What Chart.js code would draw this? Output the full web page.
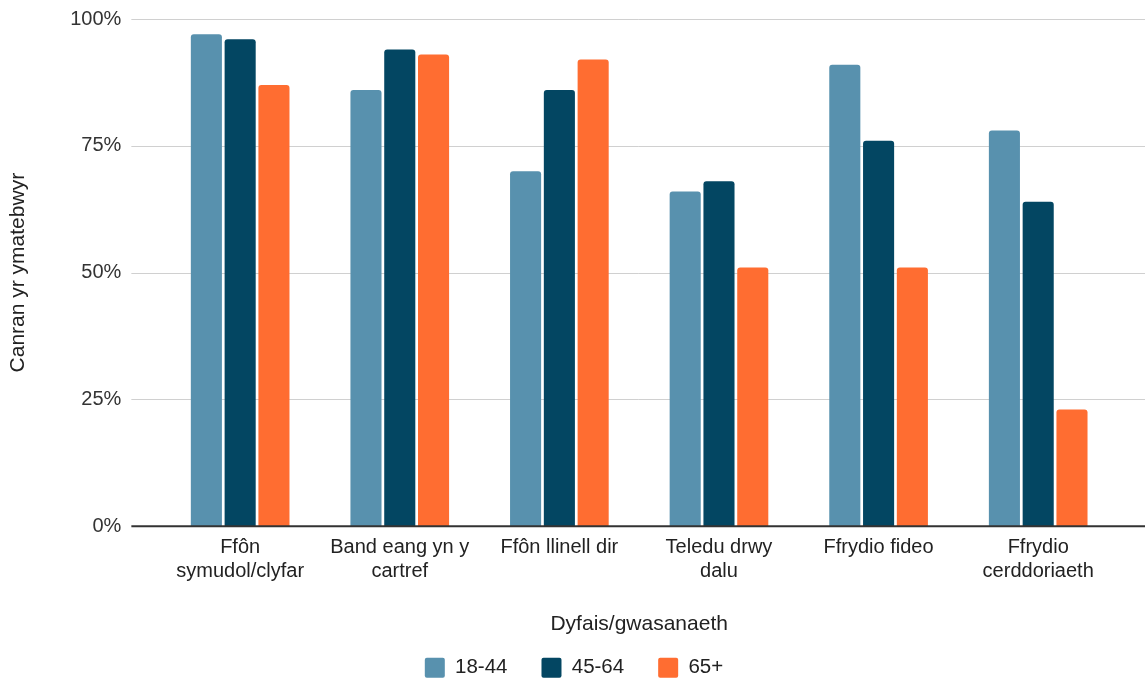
<!DOCTYPE html>
<html>
<head>
<meta charset="utf-8">
<script src="https://cdn.jsdelivr.net/npm/chart.js@4"></script>
<style>
  html, body { margin: 0; padding: 0; background: #fff; }
  #wrap { width: 1148px; height: 681px; }
</style>
</head>
<body>
<div id="wrap"><canvas id="chart" width="1148" height="681"></canvas></div>
<script>
  // ----- data -----
  const categories = [
    ['Ffôn', 'symudol/clyfar'],
    ['Band eang yn y', 'cartref'],
    'Ffôn llinell dir',
    ['Teledu drwy', 'dalu'],
    'Ffrydio fideo',
    ['Ffrydio', 'cerddoriaeth']
  ];
  const seriesNames = ['18-44', '45-64', '65+'];
  const young = [97, 86, 70, 66, 91, 78];
  const middle = [96, 94, 86, 68, 76, 64];
  const older = [87, 93, 92, 51, 51, 23];
  const yTicks = [0, 25, 50, 75, 100];

  const colors = ['#5891ae', '#034662', '#ff6d31'];
  const font = 'Liberation Sans, Arial, sans-serif';

  // gridlines run a bit wider than the category band, like the original
  const wideGrid = {
    id: 'wideGrid',
    beforeDatasetsDraw(chart) {
      const { ctx, chartArea, scales } = chart;
      ctx.save();
      ctx.strokeStyle = '#d0d0d0';
      ctx.lineWidth = 1;
      yTicks.forEach(v => {
        if (v === 0) return;
        const y = Math.round(scales.y.getPixelForValue(v)) + 0.5;
        ctx.beginPath();
        ctx.moveTo(chartArea.left - 29, y);
        ctx.lineTo(chartArea.right + 27, y);
        ctx.stroke();
      });
      ctx.restore();
    },
    afterDatasetsDraw(chart) {
      const { ctx, chartArea, scales } = chart;
      const y = scales.y.getPixelForValue(0);
      ctx.save();
      ctx.strokeStyle = '#333';
      ctx.lineWidth = 2;
      ctx.beginPath();
      ctx.moveTo(chartArea.left - 29, y);
      ctx.lineTo(chartArea.right + 27, y);
      ctx.stroke();
      ctx.restore();
    }
  };

  const mkSet = (label, data, color) => ({
    label,
    data,
    backgroundColor: color,
    borderRadius: 3,
    borderSkipped: 'start',
    categoryPercentage: 0.635,
    barPercentage: 0.92
  });

  new Chart(document.getElementById('chart'), {
    type: 'bar',
    data: {
      labels: categories,
      datasets: [
        mkSet(seriesNames[0], young, colors[0]),
        mkSet(seriesNames[1], middle, colors[1]),
        mkSet(seriesNames[2], older, colors[2])
      ]
    },
    options: {
      responsive: false,
      animation: false,
      layout: { padding: { top: 7, right: 0, bottom: -7, left: 0 } },
      plugins: {
        tooltip: { enabled: false },
        legend: {
          position: 'bottom',
          labels: {
            color: '#222',
            font: { family: font, size: 20.5 },
            boxWidth: 20,
            boxHeight: 20,
            padding: 34,
            useBorderRadius: true,
            borderRadius: 2
          }
        }
      },
      scales: {
        x: {
          afterFit: axis => { axis.paddingRight = 30; },
          grid: { display: false, drawTicks: false },
          border: { display: false },
          ticks: { color: '#222', font: { family: font, size: 20, lineHeight: 1.2 }, padding: 9, maxRotation: 0, autoSkip: false },
          title: {
            display: true,
            text: 'Dyfais/gwasanaeth',
            color: '#222',
            font: { family: font, size: 21, lineHeight: 1.2 },
            padding: { top: 19, bottom: -13 }
          }
        },
        y: {
          min: 0,
          max: 100,
          afterBuildTicks: axis => { axis.ticks = yTicks.map(v => ({ value: v })); },
          afterFit: axis => { axis.paddingTop = 19; axis.paddingBottom = 12; },
          grid: { display: false, drawTicks: false },
          border: { display: false },
          ticks: {
            color: '#333',
            font: { family: font, size: 20 },
            padding: 39,
            callback: v => v + '%'
          },
          title: {
            display: true,
            text: 'Canran yr ymatebwyr',
            color: '#222',
            font: { family: font, size: 21, lineHeight: 1.2 },
            padding: { top: 6, bottom: 0 }
          }
        }
      }
    },
    plugins: [wideGrid]
  });
</script>
</body>
</html>
